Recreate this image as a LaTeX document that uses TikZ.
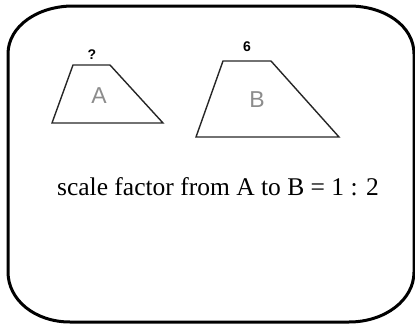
\documentclass[tikz,border=0pt]{standalone}
\usepackage{fontspec}
\setmainfont{Liberation Serif}
\newfontfamily\lsans{Liberation Sans}
\begin{document}
\begin{tikzpicture}[x=1pt,y=-1pt,
  frame/.style={line width=3pt,black},
  trap/.style={line width=1.4pt,draw=black!85},
  shapelabel/.style={font=\lsans\fontsize{23}{23}\selectfont,text=black!45,inner sep=0pt},
  sidelabel/.style={font=\lsans\bfseries\fontsize{14}{14}\selectfont,inner sep=0pt,anchor=base},
  caption/.style={font=\fontsize{25.5}{25.5}\selectfont,inner sep=0pt,anchor=base}]
\useasboundingbox (0,0) rectangle (415,324);
% outer rounded frame (elliptical corners)
\draw[frame] (73,6) -- (349,6)
  .. controls (385,6) and (414,26) .. (414,54)
  -- (414,272)
  .. controls (414,300) and (385,322) .. (349,322)
  -- (70,322)
  .. controls (35,322) and (8,300) .. (8,272)
  -- (8,54)
  .. controls (8,26) and (38,6) .. (73,6) -- cycle;
% trapezoid A
\coordinate (a1) at (73,65);
\coordinate (a2) at (110,65);
\coordinate (a3) at (163,123);
\coordinate (a4) at (52,123);
\draw[trap] (a1) -- (a2) -- (a3) -- (a4) -- cycle;
\node[shapelabel] (la) at (99,96) {A};
\node[sidelabel] (qa) at (92,59) {?};
% trapezoid B
\coordinate (b1) at (223,61);
\coordinate (b2) at (271,61);
\coordinate (b3) at (339,137);
\coordinate (b4) at (196,137);
\draw[trap] (b1) -- (b2) -- (b3) -- (b4) -- cycle;
\node[shapelabel] (lb) at (257,100) {B};
\node[sidelabel] (sb) at (247,51) {6};
% caption
\node[caption] (cap) at (218,195) {scale factor from A to B = 1 : 2};
\end{tikzpicture}
\end{document}
